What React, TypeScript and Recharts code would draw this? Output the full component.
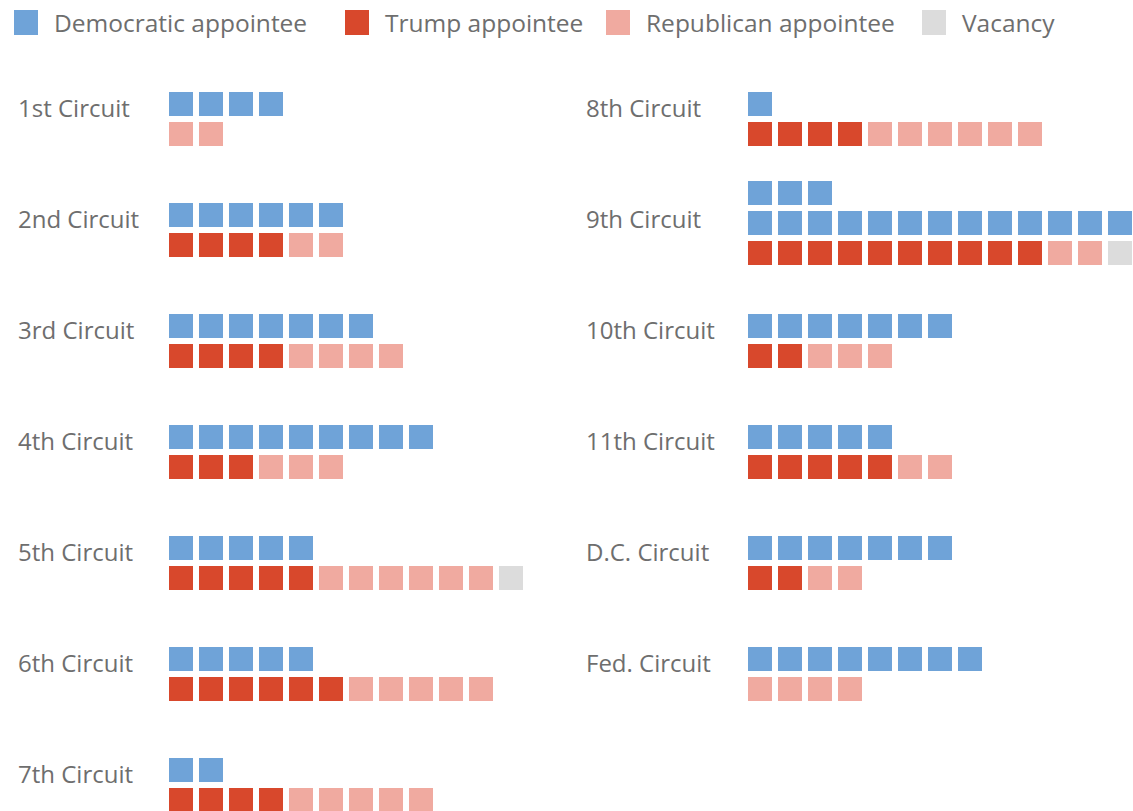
import { ScatterChart, Scatter, XAxis, YAxis } from 'recharts';

const CIRCUITS = [
  '1st Circuit', '2nd Circuit', '3rd Circuit', '4th Circuit', '5th Circuit', '6th Circuit', '7th Circuit',
  '8th Circuit', '9th Circuit', '10th Circuit', '11th Circuit', 'D.C. Circuit', 'Fed. Circuit',
];
const DEMOCRATIC = [4, 6, 7, 9, 5, 5, 2, 1, 16, 7, 5, 7, 8];
const TRUMP = [0, 4, 4, 3, 5, 6, 4, 4, 10, 2, 5, 2, 0];
const REPUBLICAN = [2, 2, 4, 3, 6, 5, 5, 6, 2, 3, 2, 2, 4];
const VACANCY = [0, 0, 0, 0, 1, 0, 0, 0, 1, 0, 0, 0, 0];

const LEGEND_LABELS = ['Democratic appointee', 'Trump appointee', 'Republican appointee', 'Vacancy'];
const COLORS = ['#6fa3d8', '#d8482c', '#f0aaa0', '#dcdcdc'];

const W = 1133;
const H = 811;
const SQUARE = 24;
const PITCH = 30;
const PER_ROW = 13;
const PER_COLUMN = 7;
const GRID_X = [169, 748];
const LABEL_X = [18, 586];
const LEGEND_LEFT = [14, 345, 606, 922];
const SLOT_TOP = 92;
const SLOT_GAP = 111;
const TEXT = '#6e6e6e';
const FONT = '"Open Sans", sans-serif';

type Seat = { x: number; y: number };

// one list of seats per kind: democratic, trump, republican, vacancy
const seats: Seat[][] = [[], [], [], []];
const labels: { x: number; y: number; name: string }[] = [];

CIRCUITS.forEach((name, i) => {
  const side = i < PER_COLUMN ? 0 : 1;
  const slot = i < PER_COLUMN ? i : i - PER_COLUMN;
  const slotTop = SLOT_TOP + slot * SLOT_GAP;
  const blueRows = Math.max(1, Math.ceil(DEMOCRATIC[i] / PER_ROW));
  const top = slotTop - (blueRows - 1) * 22;
  const cellX = (c: number) => GRID_X[side] + c * PITCH + SQUARE / 2;
  const cellY = (r: number) => top + r * PITCH + SQUARE / 2;

  labels.push({ x: LABEL_X[side], y: slotTop + 15, name });

  // democratic rows: the full row sits next to the republican row, remainder above
  for (let k = 0; k < DEMOCRATIC[i]; k++) {
    const rowFromBottom = Math.floor(k / PER_ROW);
    const col = k % PER_ROW;
    seats[0].push({ x: cellX(col), y: cellY(blueRows - 1 - rowFromBottom) });
  }
  // trump, republican, vacancy share the bottom row
  let col = 0;
  [TRUMP[i], REPUBLICAN[i], VACANCY[i]].forEach((n, j) => {
    for (let k = 0; k < n; k++) {
      seats[j + 1].push({ x: cellX(col), y: cellY(blueRows) });
      col++;
    }
  });
});

const squareShape = (color: string) => (props: any) => (
  <rect x={props.cx - SQUARE / 2} y={props.cy - SQUARE / 2} width={SQUARE} height={SQUARE} fill={color} />
);

const labelShape = (props: any) => (
  <text x={props.cx} y={props.cy} dominantBaseline="central" fill={TEXT} fontSize={24} fontFamily={FONT}>
    {props.payload.name}
  </text>
);

export default function App() {
  return (
    <div style={{ position: 'relative', width: W, height: H, background: '#fff', fontFamily: FONT }}>
      <style>{'body{margin:0}'}</style>
      <ScatterChart width={W} height={H} margin={{ top: 0, right: 0, bottom: 0, left: 0 }}>
        <XAxis type="number" dataKey="x" domain={[0, W]} hide />
        <YAxis type="number" dataKey="y" domain={[0, H]} reversed hide />
        {seats.map((data, k) => (
          <Scatter key={k} data={data} shape={squareShape(COLORS[k])} isAnimationActive={false} />
        ))}
        <Scatter data={labels} shape={labelShape} isAnimationActive={false} />
      </ScatterChart>
      {LEGEND_LABELS.map((label, k) => (
        <div
          key={label}
          style={{ position: 'absolute', top: 10, left: LEGEND_LEFT[k], display: 'flex', alignItems: 'center', height: 25 }}
        >
          <span style={{ width: 24, height: 25, background: COLORS[k], marginRight: 16 }} />
          <span style={{ color: TEXT, fontSize: 24.5, lineHeight: '25px', whiteSpace: 'nowrap' }}>{label}</span>
        </div>
      ))}
    </div>
  );
}
